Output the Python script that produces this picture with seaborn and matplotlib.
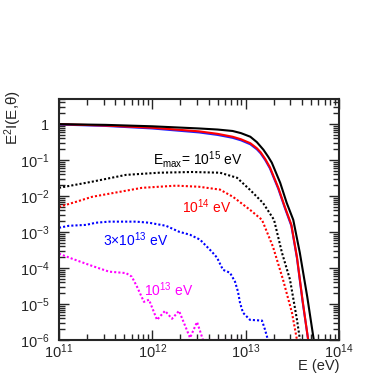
import numpy as np
import pandas as pd
import matplotlib
matplotlib.use("Agg")
import matplotlib.pyplot as plt
import seaborn as sns
from matplotlib.ticker import LogLocator, NullFormatter

# ---- data (log10 values) ----
# solid curves
black_solid_logE = [11.0, 11.5, 12.0, 12.5, 12.7, 12.86, 12.95, 13.05, 13.12, 13.19, 13.24, 13.28, 13.37, 13.44, 13.51, 13.58, 13.66, 13.73]
black_solid_logI = [0.0, -0.02, -0.06, -0.12, -0.15, -0.19, -0.25, -0.35, -0.5, -0.71, -0.9, -1.07, -1.63, -2.19, -2.66, -3.57, -4.8, -6.0]

red_solid_logE = [11.0, 11.5, 12.0, 12.5, 12.7, 12.86, 12.95, 13.05, 13.12, 13.16, 13.21, 13.26, 13.35, 13.42, 13.49, 13.55, 13.61, 13.67]
red_solid_logI = [0.0, -0.04, -0.1, -0.2, -0.27, -0.35, -0.42, -0.53, -0.67, -0.78, -0.97, -1.2, -1.77, -2.3, -2.8, -3.7, -4.9, -6.0]

blue_solid_logE = [11.0, 11.5, 12.0, 12.5, 12.7, 12.86, 12.95, 13.05, 13.12, 13.16, 13.21, 13.26, 13.35, 13.42, 13.49, 13.55, 13.61, 13.67]
blue_solid_logI = [-0.01, -0.05, -0.12, -0.23, -0.3, -0.38, -0.45, -0.56, -0.7, -0.81, -1.0, -1.23, -1.8, -2.33, -2.83, -3.73, -4.93, -6.0]

# dotted curves
black_dot_logE = [11.0, 11.354, 11.718, 12.071, 12.425, 12.725, 12.907, 13.046, 13.186, 13.304, 13.389, 13.475, 13.55, 13.582]
black_dot_logI = [-1.77, -1.6, -1.41, -1.35, -1.33, -1.35, -1.49, -1.825, -2.19, -2.66, -3.575, -4.32, -5.44, -6.0]

red_dot_logE = [11.0, 11.182, 11.354, 11.718, 11.889, 12.254, 12.5, 12.725, 12.864, 13.046, 13.175, 13.293, 13.4, 13.496, 13.55]
red_dot_logI = [-2.3, -2.16, -2.02, -1.85, -1.77, -1.71, -1.74, -1.82, -2.02, -2.38, -2.66, -3.41, -4.32, -5.24, -6.0]

blue_dot_logE = [11.0, 11.107, 11.289, 11.396, 11.536, 11.825, 11.964, 12.146, 12.286, 12.404, 12.511, 12.639, 12.693, 12.757, 12.832, 12.886, 12.918, 12.939, 12.971, 13.046, 13.175, 13.207, 13.239, 13.314]
blue_dot_logI = [-2.88, -2.825, -2.8, -2.74, -2.71, -2.71, -2.74, -2.825, -2.99, -3.075, -3.21, -3.55, -3.71, -4.05, -4.13, -4.38, -4.66, -4.96, -5.24, -5.44, -5.46, -5.71, -6.0, -6.0]

mag_dot_logE = [11.0, 11.14, 11.354, 11.536, 11.718, 11.78, 11.836, 11.91, 11.964, 12.05, 12.136, 12.211, 12.286, 12.404, 12.479, 12.543, 12.96]
mag_dot_logI = [-3.6, -3.74, -3.94, -4.1, -4.14, -4.24, -4.52, -4.94, -4.88, -5.44, -5.19, -5.41, -5.19, -5.94, -5.5, -6.0, -6.0]

labels = ["E$_{max}$= 10$^{15}$ eV", "10$^{14}$ eV", "3\u00d710$^{13}$ eV", "10$^{13}$ eV"]

def frame(name, le, li):
    return pd.DataFrame({"E": 10 ** np.array(le), "I": 10 ** np.array(li), "curve": name})

sns.set_style("ticks")
plt.rcParams["font.family"] = ["Liberation Sans", "DejaVu Sans"]
plt.rcParams["mathtext.fontset"] = "custom"
plt.rcParams["mathtext.rm"] = "Liberation Sans"
plt.rcParams["mathtext.it"] = "Liberation Sans:italic"
plt.rcParams["mathtext.default"] = "regular"

fig = plt.figure(figsize=(3.9, 3.74), dpi=100)
ax = fig.add_axes([0.1513, 0.0909, 0.7179, 0.6444])

dot = (0, (1, 1))
curves = [
    ("blue_solid", blue_solid_logE, blue_solid_logI, "#2020ff", "-"),
    ("red_solid", red_solid_logE, red_solid_logI, "#ff0000", "-"),
    ("black_solid", black_solid_logE, black_solid_logI, "#000000", "-"),
    ("black_dot", black_dot_logE, black_dot_logI, "#000000", dot),
    ("red_dot", red_dot_logE, red_dot_logI, "#ff0000", dot),
    ("blue_dot", blue_dot_logE, blue_dot_logI, "#0000ff", dot),
    ("mag_dot", mag_dot_logE, mag_dot_logI, "#ff00ff", dot),
]
for name, le, li, col, ls in curves:
    df = frame(name, le, li)
    sns.lineplot(data=df, x="E", y="I", ax=ax, color=col, linestyle=ls, lw=1.5,
                 estimator=None, sort=False, legend=False)

ax.set_xscale("log")
ax.set_yscale("log")
ax.set_xlim(1e11, 1e14)
ax.set_ylim(1e-6, 5.0)

ax.xaxis.set_major_locator(LogLocator(base=10, numticks=10))
ax.xaxis.set_minor_locator(LogLocator(base=10, subs=np.arange(2, 10), numticks=20))
ax.yaxis.set_major_locator(LogLocator(base=10, numticks=10))
ax.yaxis.set_minor_locator(LogLocator(base=10, subs=np.arange(2, 10), numticks=20))
ax.xaxis.set_minor_formatter(NullFormatter())
ax.yaxis.set_minor_formatter(NullFormatter())

def yfmt(v, pos):
    if abs(v - 1) < 1e-9:
        return "1"
    return "10$^{%d}$" % int(round(np.log10(v)))
def xfmt(v, pos):
    return "10$^{%d}$" % int(round(np.log10(v)))
ax.yaxis.set_major_formatter(plt.FuncFormatter(yfmt))
ax.xaxis.set_major_formatter(plt.FuncFormatter(xfmt))

ax.tick_params(which="both", direction="in", top=True, right=True, labelsize=10.5, width=1.0)
ax.tick_params(which="major", length=7)
ax.tick_params(which="minor", length=4)
ax.tick_params(axis="y", pad=7)
ax.tick_params(axis="x", pad=2)
for s in ax.spines.values():
    s.set_linewidth(1.5)
ax.set_xlabel("")
ax.set_ylabel("")
ax.xaxis.label.set_visible(False)
ax.yaxis.label.set_visible(False)
ax.xaxis.get_offset_text().set_visible(False)
ax.yaxis.get_offset_text().set_visible(False)

fig.text(339 / 390, 1 - 359 / 374, "E (eV)", ha="right", va="top", fontsize=10.5)
fig.text(13 / 390, 1 - 117 / 374, "E$^{2}$I(E,\u03b8)", rotation=90, ha="center", va="center", fontsize=11)

txt_pos = [(153, 160, "black"), (182, 207, "red"), (103, 240, "#0000ff"), (144, 290, "#ff00ff")]
for lab, (px, py, col) in zip(labels, txt_pos):
    ax.annotate(lab, xy=(px / 390, 1 - py / 374), xycoords="figure fraction",
                fontsize=10, color=col, va="center", ha="left")

fig.savefig("out.png", dpi=100)
